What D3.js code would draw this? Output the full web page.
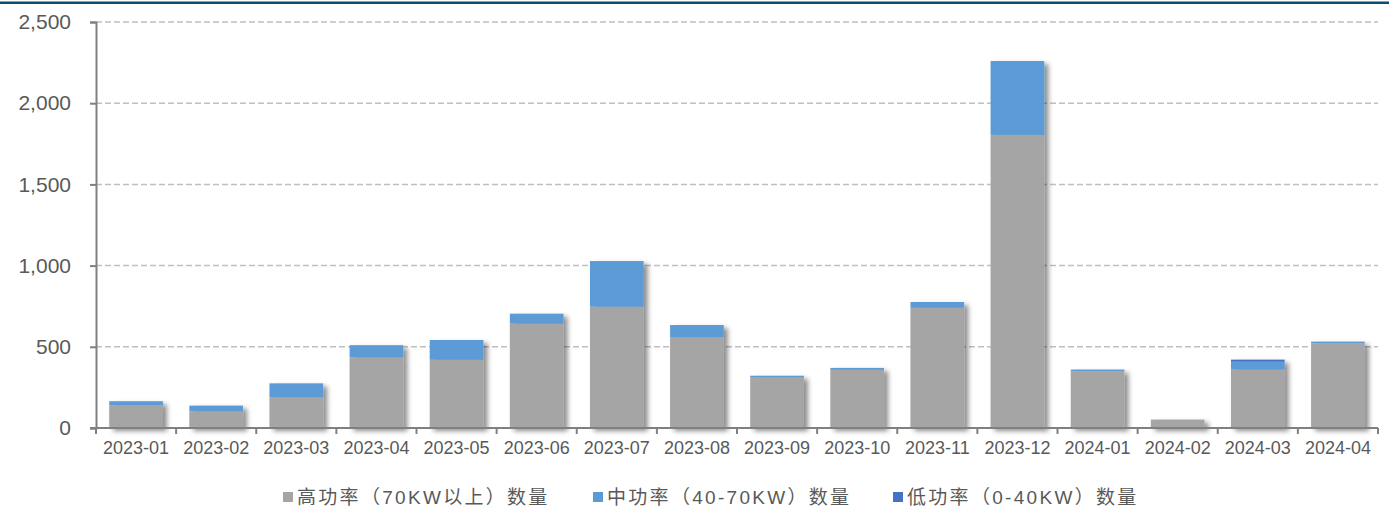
<!DOCTYPE html>
<html lang="zh">
<head>
<meta charset="UTF-8">
<title>充电桩数量</title>
<script src="https://d3js.org/d3.v7.min.js"></script>
<style>
  body { margin: 0; background: #fff; }
  svg { display: block; }
  .grid line { stroke: #bfbfbf; stroke-width: 1.5; stroke-dasharray: 6 3; }
  .lbl { font-family: "Liberation Sans", Arial, sans-serif; fill: #595959; }
  .legend text { font-family: "Liberation Sans", "Noto Sans CJK SC", sans-serif; fill: #595959; }
</style>
</head>
<body>
<script>
// data
const months = ['2023-01','2023-02','2023-03','2023-04','2023-05','2023-06','2023-07','2023-08',
                '2023-09','2023-10','2023-11','2023-12','2024-01','2024-02','2024-03','2024-04'];
const highPower = [140, 102, 190, 435, 420, 642, 747, 560, 310, 358, 740, 1805, 348, 52, 360, 520];
const midPower  = [ 25,  36,  85,  75, 122,  62, 281,  74,  12,  12,  36,  455,  12,  0,  48,  12];
const lowPower  = [  0,   0,   0,   0,   0,   0,   0,   0,   0,   0,   0,    0,   0,  0,  13,   0];
const seriesNames = ['高功率（70KW以上）数量', '中功率（40-70KW）数量', '低功率（0-40KW）数量'];
const colors = ['#a5a5a5', '#5b9bd5', '#4472c4'];
const yTicks = [0, 500, 1000, 1500, 2000, 2500];

const width = 1389, height = 511;
const plotLeft = 96, plotRight = 1378, plotTop = 22, plotBottom = 428;

const svg = d3.select('body').append('svg')
    .attr('width', width)
    .attr('height', height);

// top border line
svg.append('rect')
    .attr('x', 0).attr('y', 1.5)
    .attr('width', width).attr('height', 2.5)
    .attr('fill', '#0d4d6e');

const x = d3.scaleBand().domain(months).range([plotLeft, plotRight])
    .paddingInner(0.33).paddingOuter(0.165);
const y = d3.scaleLinear().domain([0, 2500]).range([plotBottom, plotTop]);

// gridlines
svg.append('g').attr('class', 'grid')
  .selectAll('line')
  .data(yTicks.filter(d => d > 0))
  .enter().append('line')
    .attr('x1', plotLeft).attr('x2', plotRight)
    .attr('y1', d => y(d)).attr('y2', d => y(d));

// shadow filter
const defs = svg.append('defs');
const f = defs.append('filter').attr('id', 'shadow')
    .attr('x', '-20%').attr('y', '-20%').attr('width', '150%').attr('height', '150%');
f.append('feDropShadow')
    .attr('dx', 4).attr('dy', 3)
    .attr('stdDeviation', 2.5)
    .attr('flood-color', '#000')
    .attr('flood-opacity', 0.45);

// stacked bars
const rows = months.map((m, i) => ({ month: m, s0: highPower[i], s1: midPower[i], s2: lowPower[i] }));
const stack = d3.stack().keys(['s0', 's1', 's2']);
const layers = stack(rows);

const bars = svg.append('g').attr('filter', 'url(#shadow)');
bars.selectAll('g')
  .data(layers)
  .enter().append('g')
    .attr('fill', (d, i) => colors[i])
  .selectAll('rect')
  .data(d => d.filter(p => p[1] > p[0]))
  .enter().append('rect')
    .attr('x', d => x(d.data.month))
    .attr('width', x.bandwidth())
    .attr('y', d => y(d[1]))
    .attr('height', d => y(d[0]) - y(d[1]));

// y axis
const yAxis = svg.append('g')
    .attr('transform', `translate(${plotLeft},0)`)
    .call(d3.axisLeft(y).tickValues(yTicks).tickFormat(d3.format(',')).tickSize(6).tickPadding(19));
yAxis.select('.domain').attr('stroke', '#808080').attr('stroke-width', 2);
yAxis.selectAll('.tick line').attr('stroke', '#808080').attr('stroke-width', 2);
yAxis.selectAll('.tick text').attr('class', 'lbl').style('font-size', '21px');

// x axis
const xAxis = svg.append('g')
    .attr('transform', `translate(0,${plotBottom})`)
    .call(d3.axisBottom(x).tickSize(0).tickPadding(13));
xAxis.select('.domain').attr('stroke', '#808080').attr('stroke-width', 2)
    .attr('d', `M${plotLeft - 6},0H${plotRight}`);
xAxis.selectAll('.tick text').attr('class', 'lbl').style('font-size', '18px');
xAxis.selectAll('line.sep')
  .data(d3.range(months.length + 1))
  .enter().append('line')
    .attr('class', 'sep')
    .attr('x1', i => plotLeft + i * x.step()).attr('x2', i => plotLeft + i * x.step())
    .attr('y1', 0).attr('y2', 6)
    .attr('stroke', '#808080').attr('stroke-width', 2);

// legend
const legendX = [283, 593, 893];
const legend = svg.append('g').attr('class', 'legend');
seriesNames.forEach((name, i) => {
  legend.append('rect')
      .attr('x', legendX[i]).attr('y', 492)
      .attr('width', 10).attr('height', 10)
      .attr('fill', colors[i]);
  legend.append('text')
      .attr('x', legendX[i] + 14).attr('y', 504)
      .style('font-size', '19px')
      .style('letter-spacing', '2.3px')
      .text(name);
});
</script>
</body>
</html>
